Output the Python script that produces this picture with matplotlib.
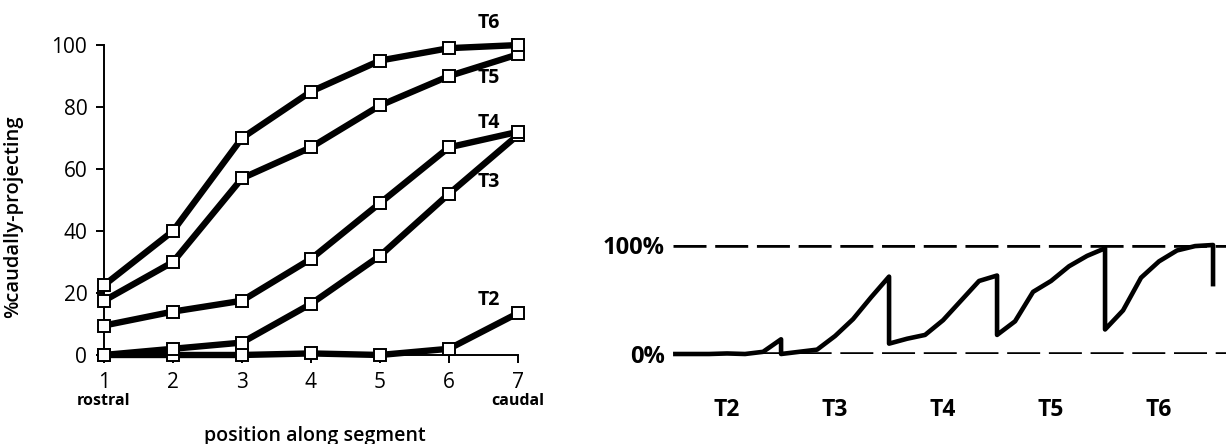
import numpy as np
import matplotlib
matplotlib.use("Agg")
import matplotlib.pyplot as plt

plt.rcParams['font.family'] = ['Open Sans', 'DejaVu Sans']

# % caudally-projecting cells at each position along the segment
positions = [1, 2, 3, 4, 5, 6, 7]
segments = ['T2', 'T3', 'T4', 'T5', 'T6']
pct_T2 = [0, 0, 0, 0.5, 0, 2, 13.5]
pct_T3 = [0, 2, 4, 16.5, 32, 52, 71]
pct_T4 = [9.5, 14, 17.5, 31, 49, 67, 72]
pct_T5 = [17.5, 30, 57, 67, 80.5, 90, 97]
pct_T6 = [22.5, 40, 70, 85, 95, 99, 100]
tail_value = 62   # short drop after T6 in the right panel

series = [pct_T2, pct_T3, pct_T4, pct_T5, pct_T6]

fig = plt.figure(figsize=(12.26, 4.44), dpi=100)

# ---- left: curves per segment ----
ax = fig.add_axes([0.0848, 0.2005, 0.3377, 0.698])
for vals in series:
    ax.plot(positions, vals, color='black', lw=4.6, marker='s', ms=8,
            mfc='white', mec='black', mew=1.4, clip_on=False, zorder=3)

ax.set_xlim(1, 7)
ax.set_ylim(0, 100)
ax.set_xticks(positions)
ax.set_yticks([0, 20, 40, 60, 80, 100])
ax.spines['top'].set_visible(False)
ax.spines['right'].set_visible(False)
ax.spines['left'].set_linewidth(1.4)
ax.spines['bottom'].set_linewidth(1.4)
ax.tick_params(axis='both', direction='out', length=6, width=1.4,
               labelsize=15, pad=6)

ax.set_ylabel('%caudally-projecting', fontsize=14.5, fontweight='semibold')
ax.yaxis.set_label_coords(-0.196, 0.445)
ax.set_xlabel('position along segment', fontsize=14, fontweight='semibold')
ax.xaxis.set_label_coords(0.51, -0.228)

ax.text(1, -0.148, 'rostral', transform=ax.get_xaxis_transform(),
        ha='center', va='center', fontsize=11.5, fontweight='bold')
ax.text(7, -0.148, 'caudal', transform=ax.get_xaxis_transform(),
        ha='center', va='center', fontsize=11.5, fontweight='bold')

# curve names, placed beside the right end
label_y = [17.7, 55.8, 75, 89.4, 107]
for name, yy in zip(segments, label_y):
    ax.text(6.57, yy, name, ha='center', va='center', fontsize=14,
            fontweight='bold')

# ---- right: all segments laid end to end ----
ax2 = fig.add_axes([0.549, 0.2027, 0.451, 0.2455])
n = len(positions) - 1
xs, ys = [], []
for k, vals in enumerate(series):
    xs += list(k * n + np.arange(len(vals)))
    ys += vals
xs.append(xs[-1])
ys.append(tail_value)

for level in (0, 100):
    ax2.axhline(level, color='black', lw=3.3, dashes=(7.2, 1.9),
                dash_capstyle='butt', zorder=1)
ax2.plot(xs, ys, color='black', lw=3.3, clip_on=False, zorder=2,
         solid_joinstyle='round', solid_capstyle='butt')

ax2.set_xlim(0, 30.72)
ax2.set_ylim(0, 100)
for s in ax2.spines.values():
    s.set_visible(False)
ax2.set_yticks([0, 100])
ax2.set_yticklabels(['0%', '100%'])
ax2.set_xticks([k * n + n / 2 for k in range(len(segments))])
ax2.set_xticklabels(segments)
ax2.tick_params(axis='y', length=0, pad=6, labelsize=17)
ax2.tick_params(axis='x', length=0, pad=32, labelsize=16.5)
for lab in ax2.get_xticklabels() + ax2.get_yticklabels():
    lab.set_fontweight('bold')

fig.savefig('out.png', dpi=100)
